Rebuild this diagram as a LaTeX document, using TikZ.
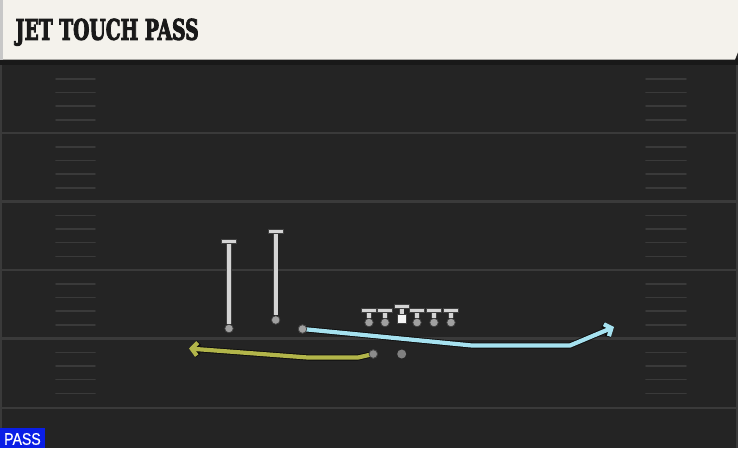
\documentclass[tikz,border=0pt]{standalone}
\usepackage{graphicx}
\usepackage{fontspec}
\setmainfont{DejaVu Serif}
\newfontfamily\titlefont[FakeBold=4,BoldFeatures={FakeBold=4}]{DejaVu Serif}
\newfontfamily\passfont[FakeBold=0.6]{Liberation Sans}
\usetikzlibrary{arrows.meta}
\definecolor{field}{HTML}{242424}
\definecolor{yardc}{HTML}{3A3A3A}
\definecolor{hashc}{HTML}{3A3A3A}
\definecolor{cream}{HTML}{F4F2EC}
\definecolor{passblue}{HTML}{0A1EE6}
\definecolor{stemc}{HTML}{D4D4D4}
\definecolor{dotc}{HTML}{A0A0A0}
\definecolor{bluer}{HTML}{A6E2F0}
\definecolor{yellowr}{HTML}{B2B54A}
\tikzset{
  yard/.style={draw=yardc, line width=2.2pt},
  hash/.style={draw=hashc, line width=1.8pt, line cap=round},
  pdot/.style={circle, inner sep=0pt, minimum size=8.5pt, fill=dotc, draw=black!75, line width=0.7pt},
  qbdot/.style={circle, inner sep=0pt, minimum size=9pt, fill=black!50, draw=none},
  cdot/.style={rectangle, inner sep=0pt, minimum size=8.5pt, fill=white!96!black, draw=black!75, line width=0.6pt},
  tbarnode/.style={rectangle, inner sep=0pt, minimum width=14.5pt, minimum height=4.4pt, fill=stemc, draw=black!75, line width=0.7pt},
  stemline/.style={draw=stemc, line width=4pt, preaction={draw=black!75, line width=5.4pt}},
  routeout/.style={draw=black!95, line width=6pt, line join=round, -{Straight Barb[length=5.5pt,width=13pt]}},
  blueroute/.style={draw=bluer, line width=4.2pt, line join=round, -{Straight Barb[length=5.5pt,width=13pt]}},
  yellowroute/.style={draw=yellowr, line width=4.2pt, line join=round, -{Straight Barb[length=5.5pt,width=13pt]}},
}
\begin{document}
\begin{tikzpicture}[x=1pt,y=-1pt]
\useasboundingbox (0,0) rectangle (738,448);
\fill[field] (0,0) rectangle (738,448);
\fill[yardc] (0,60) rectangle (2,448);
\fill[yardc] (736,60) rectangle (738,448);
% yard lines
\foreach \yy in {133,201.5,270,338.5,408} \draw[yard] (0,\yy) -- (738,\yy);
% hash marks
\foreach \bb in {65,133,201.5,270,338.5}
  \foreach \oo in {14,27.5,41,55} {
    \draw[hash] (56,\bb+\oo) -- (95,\bb+\oo);
    \draw[hash] (646,\bb+\oo) -- (686,\bb+\oo);
  }
% header
\fill[black!90] (0,58) rectangle (738,65);
\fill[cream] (3,0) -- (738,0) -- (738,52) -- (735,59.5) -- (3,59.5) -- cycle;
\fill[black!22] (0,0) rectangle (3,59.5);
\node[anchor=west, inner sep=0pt, text=black!90] (title) at (15.5,32.2)
  {\resizebox{183pt}{21pt}{\titlefont\bfseries JET TOUCH PASS}};
% pass label
\fill[passblue] (0,427.5) rectangle (45,448);
\node[anchor=west, inner sep=0pt, text=white] (pass) at (4,439)
  {\resizebox{36.5pt}{11.7pt}{\passfont PASS}};

% receivers
\node[tbarnode, anchor=north] (wr1bar) at (229,239) {};
\node[pdot] (wr1) at (229,328.5) {};
\draw[stemline] (wr1bar) -- (wr1);
\node[tbarnode, anchor=north] (wr2bar) at (275.7,229) {};
\node[pdot] (wr2) at (275.7,320) {};
\draw[stemline] (wr2bar) -- (wr2);

% linemen
\foreach \nm/\xx in {lt/369,lg/385,rg/417,rt/434,te/451} {
  \node[tbarnode, anchor=north] (\nm bar) at (\xx,308) {};
  \node[pdot] (\nm) at (\xx,322.5) {};
  \draw[stemline] (\nm bar) -- (\nm);
}
\node[tbarnode, anchor=north] (cbar) at (401.7,303.5) {};
\node[cdot] (c) at (401.7,319) {};
\draw[stemline] (cbar) -- (c);

% backs
\node[qbdot] (qb) at (401.7,354) {};
\node[pdot] (wr3) at (302.5,329) {};
\node[pdot, fill=black!45] (rb) at (373.3,354) {};

% routes
\coordinate (b1) at (472,345.5);
\coordinate (b2) at (570,345.5);
\coordinate (bend) at (614,327);
\draw[routeout] (wr3.center) -- (b1) -- (b2) -- (bend);
\draw[blueroute] (wr3.center) -- (b1) -- (b2) -- (bend);
\node[pdot] at (wr3) {};

\coordinate (y1) at (358,357.5);
\coordinate (y2) at (308,357.5);
\coordinate (yend) at (189,348.5);
\draw[routeout] (rb.center) -- (y1) -- (y2) -- (yend);
\draw[yellowroute] (rb.center) -- (y1) -- (y2) -- (yend);
\node[pdot, fill=black!45] at (rb) {};
\end{tikzpicture}
\end{document}
